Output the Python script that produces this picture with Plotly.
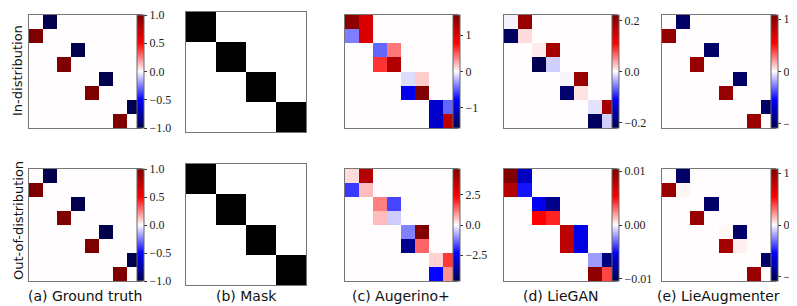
import plotly.graph_objects as go

W, H = 797, 306

# ---------------- data ----------------
ground_truth = [
    [0, -1, 0, 0, 0, 0, 0, 0],
    [1, 0, 0, 0, 0, 0, 0, 0],
    [0, 0, 0, -1, 0, 0, 0, 0],
    [0, 0, 1, 0, 0, 0, 0, 0],
    [0, 0, 0, 0, 0, -1, 0, 0],
    [0, 0, 0, 0, 1, 0, 0, 0],
    [0, 0, 0, 0, 0, 0, 0, -1],
    [0, 0, 0, 0, 0, 0, 1, 0],
]
mask = [
    [1, 1, 0, 0, 0, 0, 0, 0],
    [1, 1, 0, 0, 0, 0, 0, 0],
    [0, 0, 1, 1, 0, 0, 0, 0],
    [0, 0, 1, 1, 0, 0, 0, 0],
    [0, 0, 0, 0, 1, 1, 0, 0],
    [0, 0, 0, 0, 1, 1, 0, 0],
    [0, 0, 0, 0, 0, 0, 1, 1],
    [0, 0, 0, 0, 0, 0, 1, 1],
]
augerino_id = [
    [1.47, 0.99, 0, 0, 0, 0, 0, 0],
    [-0.39, 1.0, 0, 0, 0, 0, 0, 0],
    [0, 0, -0.47, 0.41, 0, 0, 0, 0],
    [0, 0, 0.62, 1.24, 0, 0, 0, 0],
    [0, 0, 0, 0, -0.1, 0.15, 0, 0],
    [0, 0, 0, 0, -0.85, 1.55, 0, 0],
    [0, 0, 0, 0, 0, 0, -1.0, -0.47],
    [0, 0, 0, 0, 0, 0, -1.0, 1.16],
]
liegan_id = [
    [-0.005, 0.2, 0, 0, 0, 0, 0, 0],
    [-0.21, 0.015, 0, 0, 0, 0, 0, 0],
    [0, 0, 0.008, 0.19, 0, 0, 0, 0],
    [0, 0, -0.22, -0.02, 0, 0, 0, 0],
    [0, 0, 0, 0, -0.003, 0.2, 0, 0],
    [0, 0, 0, 0, -0.2, 0.012, 0, 0],
    [0, 0, 0, 0, 0, 0, -0.012, 0.19],
    [0, 0, 0, 0, 0, 0, -0.21, -0.02],
]
lieaug_id = [
    [0.0, -1.0, 0, 0, 0, 0, 0, 0],
    [1.0, 0.0, 0, 0, 0, 0, 0, 0],
    [0, 0, 0.0, -1.0, 0, 0, 0, 0],
    [0, 0, 0.98, 0.0, 0, 0, 0, 0],
    [0, 0, 0, 0, 0.0, -1.0, 0, 0],
    [0, 0, 0, 0, 0.98, 0.0, 0, 0],
    [0, 0, 0, 0, 0, 0, 0.0, -1.0],
    [0, 0, 0, 0, 0, 0, 0.97, 0.0],
]
augerino_ood = [
    [0.3, 3.7, 0, 0, 0, 0, 0, 0],
    [-1.8, 0.6, 0, 0, 0, 0, 0, 0],
    [0, 0, 1.15, -1.7, 0, 0, 0, 0],
    [0, 0, 0.6, -0.45, 0, 0, 0, 0],
    [0, 0, 0, 0, -1.15, 4.6, 0, 0],
    [0, 0, 0, 0, -3.8, 1.4, 0, 0],
    [0, 0, 0, 0, 0, 0, 0.4, 1.8],
    [0, 0, 0, 0, 0, 0, -2.3, 1.0],
]
liegan_ood = [
    [0.0104, -0.007, 0, 0, 0, 0, 0, 0],
    [0.0083, -0.0048, 0, 0, 0, 0, 0, 0],
    [0, 0, -0.0057, -0.0085, 0, 0, 0, 0],
    [0, 0, 0.0052, 0.0045, 0, 0, 0, 0],
    [0, 0, 0, 0, 0.0078, -0.0058, 0, 0],
    [0, 0, 0, 0, 0.0078, -0.006, 0, 0],
    [0, 0, 0, 0, 0, 0, -0.002, -0.009],
    [0, 0, 0, 0, 0, 0, 0.0098, 0.0038],
]
lieaug_ood = [
    [0.0, -1.0, 0, 0, 0, 0, 0, 0],
    [0.97, 0.02, 0, 0, 0, 0, 0, 0],
    [0, 0, 0.0, -1.0, 0, 0, 0, 0],
    [0, 0, 0.98, 0.0, 0, 0, 0, 0],
    [0, 0, 0, 0, 0.01, -1.0, 0, 0],
    [0, 0, 0, 0, 0.92, 0.03, 0, 0],
    [0, 0, 0, 0, 0, 0, 0.0, -1.0],
    [0, 0, 0, 0, 0, 0, 0.97, 0.0],
]

subtitles = ["(a) Ground truth", "(b) Mask", "(c) Augerino+", "(d) LieGAN", "(e) LieAugmenter"]
row_labels = ["In-distribution", "Out-of-distribution"]

gt_ticks = [-1.0, -0.5, 0.0, 0.5, 1.0]
gt_ticktext = ["−1.0", "−0.5", "0.0", "0.5", "1.0"]
int_ticks = [-1, 0, 1]
int_ticktext = ["−1", "0", "1"]
liegan_id_ticks = [-0.2, 0.0, 0.2]
liegan_id_ticktext = ["−0.2", "0.0", "0.2"]
aug_ood_ticks = [-2.5, 0.0, 2.5]
aug_ood_ticktext = ["−2.5", "0.0", "2.5"]
liegan_ood_ticks = [-0.01, 0.0, 0.01]
liegan_ood_ticktext = ["−0.01", "0.00", "0.01"]

# ---------------- styling ----------------
seismic = [
    [0.0, "rgb(0,0,76)"],
    [0.25, "rgb(0,0,255)"],
    [0.5, "rgb(255,253,253)"],
    [0.75, "rgb(255,0,0)"],
    [1.0, "rgb(127,0,0)"],
]
greys = [[0.0, "white"], [1.0, "black"]]

# panel boxes (x0, x1, y0, y1) in pixels, colorbar left x in pixels
row_y = [(7, 120), (161, 273)]
mask_y = [(4, 124), (156, 277)]
col_x = [(21, 133), (178, 298), (337, 449), (496, 608), (654, 767)]
cbar_x = [134, None, 450, 609, 768]
CBAR_SHIFT = -5

panels = [
    # row 0
    (ground_truth, -1.0, 1.0, gt_ticks, gt_ticktext),
    (mask, 0, 1, None, None),
    (augerino_id, -1.55, 1.55, int_ticks, int_ticktext),
    (liegan_id, -0.222, 0.222, liegan_id_ticks, liegan_id_ticktext),
    (lieaug_id, -1.08, 1.08, int_ticks, int_ticktext),
    # row 1
    (ground_truth, -1.0, 1.0, gt_ticks, gt_ticktext),
    (mask, 0, 1, None, None),
    (augerino_ood, -4.65, 4.65, aug_ood_ticks, aug_ood_ticktext),
    (liegan_ood, -0.0104, 0.0104, liegan_ood_ticks, liegan_ood_ticktext),
    (lieaug_ood, -1.08, 1.08, int_ticks, int_ticktext),
]

fig = go.Figure()
layout = {}
for i, (z, zmin, zmax, tv, tt) in enumerate(panels):
    r, c = divmod(i, 5)
    x0, x1 = col_x[c]
    y0, y1 = mask_y[r] if c == 1 else row_y[r]
    n = i + 1
    xa = "x" if n == 1 else f"x{n}"
    ya = "y" if n == 1 else f"y{n}"
    is_mask = c == 1
    trace = dict(
        z=z, zmin=zmin, zmax=zmax,
        colorscale=greys if is_mask else seismic,
        xaxis=xa, yaxis=ya, hoverinfo="skip",
        showscale=not is_mask, xgap=0, ygap=0,
    )
    if not is_mask:
        trace["colorbar"] = dict(
            x=(cbar_x[c] + CBAR_SHIFT) / W, xanchor="left", xpad=0,
            y=1 - (y0 + y1) / 2 / H, yanchor="middle", ypad=0,
            len=(y1 - y0), lenmode="pixels",
            thickness=7, thicknessmode="pixels",
            outlinewidth=1, outlinecolor="#666",
            tickvals=tv, ticktext=tt, ticks="outside", ticklen=3,
            tickwidth=1, tickcolor="#333",
            tickfont=dict(family="Liberation Serif", size=12, color="#222"),
        )
    fig.add_trace(go.Heatmap(**trace))
    axis_common = dict(
        showgrid=False, zeroline=False, showticklabels=False, ticks="",
        showline=True, mirror=True, linecolor="#777", linewidth=1,
    )
    layout[f"xaxis{'' if n == 1 else n}"] = dict(
        domain=[x0 / W, x1 / W], range=[-0.5, 7.5], anchor=ya, **axis_common)
    layout[f"yaxis{'' if n == 1 else n}"] = dict(
        domain=[1 - y1 / H, 1 - y0 / H], range=[7.5, -0.5], anchor=xa, **axis_common)

annotations = []
for c, label in enumerate(subtitles):
    x0, x1 = col_x[c]
    annotations.append(dict(
        text=label, x=(x0 + x1) / 2 / W, y=1 - 288 / H, xref="paper", yref="paper",
        xanchor="center", yanchor="middle", showarrow=False,
        font=dict(family="DejaVu Sans", size=14, color="#111"),
    ))
for r, (label, yc) in enumerate(zip(row_labels, [63, 213])):
    annotations.append(dict(
        text=label, x=10 / W, y=1 - yc / H, xref="paper", yref="paper",
        xanchor="center", yanchor="middle", showarrow=False, textangle=-90,
        font=dict(family="DejaVu Sans", size=13, color="#111"),
    ))

fig.update_layout(
    width=W, height=H, margin=dict(l=0, r=0, t=0, b=0),
    paper_bgcolor="white", plot_bgcolor="white",
    annotations=annotations, showlegend=False,
    **layout,
)

fig.write_html("out.html")
